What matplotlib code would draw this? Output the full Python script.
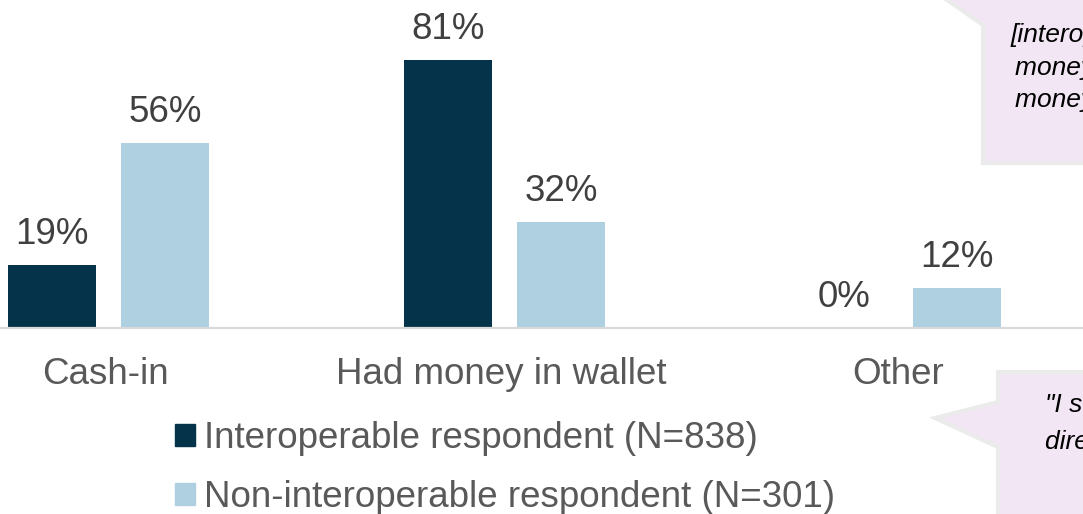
import matplotlib.pyplot as plt
from matplotlib.patches import Patch, Polygon

plt.rcParams['font.family'] = ['Liberation Sans', 'DejaVu Sans']

categories = ["Cash-in", "Had money in wallet", "Other"]
interop = [19, 81, 0]
non_interop = [56, 32, 12]
legend_labels = ["Interoperable respondent (N=838)", "Non-interoperable respondent (N=301)"]

quote_top = ["[interoperability] lets me", "money to anyone and receive", "money from anyone"]
quote_bottom = ["\"I send money", "directly to them\""]

DARK = "#04334a"
LIGHT = "#afd0e0"
W, H = 1083, 514
FS = 26.5

fig = plt.figure(figsize=(W / 100, H / 100), dpi=100)

# main bar axes: baseline sits 328px from the top, 3.31px per percent
base_px = 328
ax = fig.add_axes([0, (H - base_px) / H, 1, base_px / H])
ax.set_ylim(0, base_px / 3.31)
ax.set_xlim(-108.5 / 396, (W - 108.5) / 396)

x = list(range(len(categories)))
bw = 88 / 396
off = 56.5 / 396
b1 = ax.bar([i - off for i in x], interop, width=bw, color=DARK, label=legend_labels[0])
b2 = ax.bar([i + off for i in x], non_interop, width=bw, color=LIGHT, label=legend_labels[1])

for bars, vals in ((b1, interop), (b2, non_interop)):
    for r, v in zip(bars, vals):
        ax.annotate(f"{v}%", (r.get_x() + r.get_width() / 2, v), xytext=(0, 15),
                    textcoords="offset points", ha="center", va="baseline",
                    fontsize=FS, color="#404040")

for i, c in zip(x, categories):
    ax.annotate(c, (i, 0), xycoords=("data", "axes fraction"), xytext=(-2, -40),
                textcoords="offset points", ha="center", va="baseline",
                fontsize=FS, color="#595959")

for s in ["top", "left", "right"]:
    ax.spines[s].set_visible(False)
ax.spines["bottom"].set_color("#d9d9d9")
ax.spines["bottom"].set_linewidth(1.6)
ax.set_xticks([])
ax.set_yticks([])

fig.legend(handles=[Patch(color=DARK), Patch(color=LIGHT)], labels=legend_labels,
           loc="upper left", bbox_to_anchor=(175 / W, 1 - 421 / H), frameon=False,
           fontsize=FS, labelcolor="#595959", handlelength=0.53, handleheight=0.53,
           handletextpad=0.25, labelspacing=0.65, borderpad=0, borderaxespad=0)

# quote callouts drawn in pixel coordinates on an overlay
ov = fig.add_axes([0, 0, 1, 1], zorder=5)
ov.set_xlim(0, W)
ov.set_ylim(H, 0)
ov.axis("off")

top_box = [(983, 163), (983, 25), (940, -5), (1100, -5), (1100, 163)]
bot_box = [(998, 372), (1100, 372), (1100, 530), (998, 530), (998, 447), (935, 418), (998, 402)]
for pts in (top_box, bot_box):
    ov.add_patch(Polygon(pts, closed=True, facecolor="#f2e6f4", edgecolor="#ebebeb",
                         linewidth=3, clip_on=False))

for (tx, ty), line in zip([(1010, 42), (1015, 75), (1015, 107)], quote_top):
    ov.text(tx, ty, line, fontsize=19, style="italic", color="black", va="baseline", clip_on=False)
for (tx, ty), line in zip([(1045, 412), (1045, 449)], quote_bottom):
    ov.text(tx, ty, line, fontsize=19, style="italic", color="black", va="baseline", clip_on=False)

fig.savefig("out.png", dpi=100)
